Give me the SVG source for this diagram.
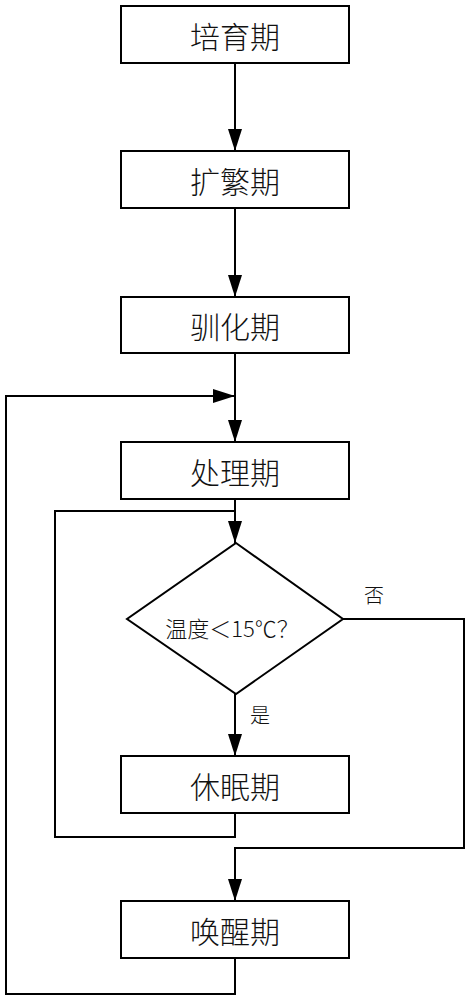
<svg xmlns="http://www.w3.org/2000/svg" width="470" height="1000" viewBox="0 0 470 1000">
<style>
.box{fill:#fff;stroke:#000;stroke-width:2}
.lbl{font-family:"Noto Sans CJK SC","Noto Sans CJK JP",sans-serif;font-size:30px;fill:#111;text-anchor:middle;dominant-baseline:central;font-weight:300}
.small{font-family:"Noto Sans CJK SC",sans-serif;font-size:22px;fill:#111;text-anchor:middle;dominant-baseline:central;font-weight:300}
.cn{font-family:"Noto Sans CJK SC",sans-serif;font-size:20px;fill:#111;text-anchor:middle;dominant-baseline:central;font-weight:300}
.ln{fill:none;stroke:#000;stroke-width:2}
</style>
<defs>
<marker id="ah" markerUnits="userSpaceOnUse" markerWidth="22" markerHeight="14" refX="22" refY="7" viewBox="0 0 22 14" orient="auto">
<path d="M0,0 L22,7 L0,14 Z" fill="#000"/>
</marker>
</defs>
<rect width="470" height="1000" fill="#fff"/>
<g id="connectors">
<line class="ln" x1="235" y1="63" x2="235" y2="151" marker-end="url(#ah)"/>
<line class="ln" x1="235" y1="208" x2="235" y2="297" marker-end="url(#ah)"/>
<line class="ln" x1="235" y1="353" x2="235" y2="442" marker-end="url(#ah)"/>
<polyline class="ln" points="235,958 235,994 6,994 6,396 235,396" marker-end="url(#ah)"/>
<line class="ln" x1="235" y1="499" x2="235" y2="543" marker-end="url(#ah)"/>
<polyline class="ln" points="235,813 235,837 55,837 55,511 235,511"/>
<line class="ln" x1="235" y1="694" x2="235" y2="756" marker-end="url(#ah)"/>
<polyline class="ln" points="343,619 464,619 464,848 235,848 235,901" marker-end="url(#ah)"/>
<text class="cn" x="260" y="714">是</text>
<text class="cn" x="374" y="594">否</text>
</g>
<g id="n1"><rect class="box" x="121" y="6" width="228" height="57"/><text class="lbl" x="235" y="35">培育期</text></g>
<g id="n2"><rect class="box" x="121" y="151" width="228" height="57"/><text class="lbl" x="235" y="180">扩繁期</text></g>
<g id="n3"><rect class="box" x="121" y="297" width="228" height="56"/><text class="lbl" x="235" y="325">驯化期</text></g>
<g id="n4"><rect class="box" x="121" y="442" width="228" height="57"/><text class="lbl" x="235" y="471">处理期</text></g>
<g id="n5"><polygon class="box" points="236,543 343,619 236,694 127,619"/><text class="small" x="232" y="627">温度＜15℃？</text></g>
<g id="n6"><rect class="box" x="121" y="756" width="228" height="57"/><text class="lbl" x="235" y="785">休眠期</text></g>
<g id="n7"><rect class="box" x="121" y="901" width="228" height="57"/><text class="lbl" x="235" y="930">唤醒期</text></g>
</svg>
